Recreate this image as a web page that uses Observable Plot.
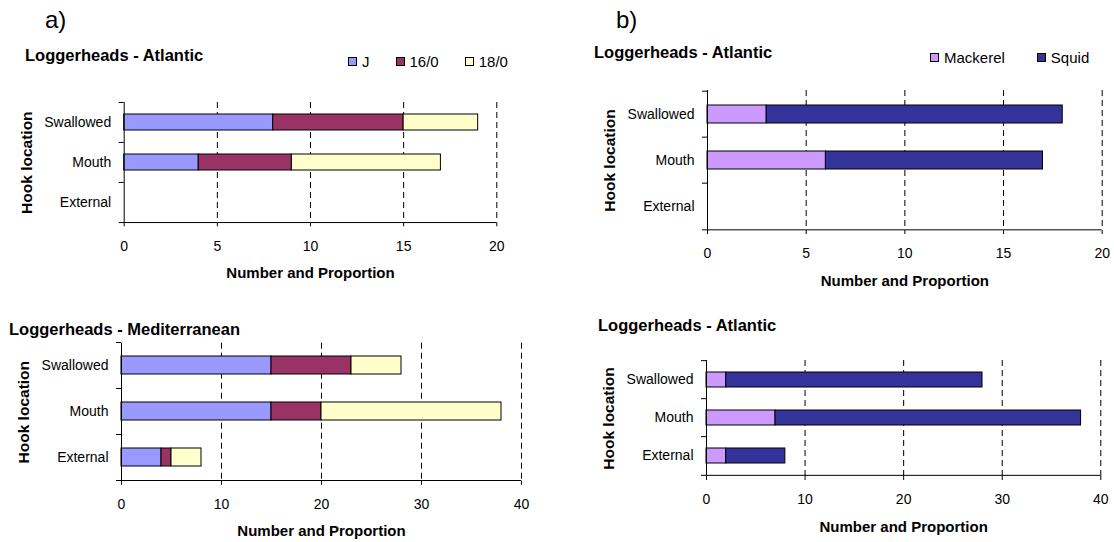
<!DOCTYPE html>
<html>
<head>
<meta charset="utf-8">
<script src="https://cdn.jsdelivr.net/npm/d3@7"></script>
<script src="https://cdn.jsdelivr.net/npm/@observablehq/plot@0.6"></script>
<style>
  body { margin: 0; background: #fff; font-family: Arial, "Liberation Sans", sans-serif; color: #000; }
  #page { position: relative; width: 1114px; height: 542px; overflow: hidden; background: #fff; }
  .panel { position: absolute; }
  .tag { position: absolute; font-size: 24px; line-height: 1; }
  .title { position: absolute; font-weight: bold; font-size: 16.5px; line-height: 1; white-space: nowrap; }
  .legend { position: absolute; display: flex; align-items: center; font-size: 15px; line-height: 1; white-space: nowrap; }
  .legend .item { display: flex; align-items: center; }
  .legend .sw { width: 9px; height: 9px; box-sizing: border-box; border: 1px solid #000; margin-right: 5px; }
</style>
</head>
<body>
<div id="page"></div>
<script>
// Hook location categories (y axis)
const locations = ["Swallowed", "Mouth", "External"];

// Hook types and their fills
const hookTypes = ["J", "16/0", "18/0"];
const hookColors = ["#9999ff", "#993366", "#ffffcc"];

// Bait types and their fills
const baitTypes = ["Mackerel", "Squid"];
const baitColors = ["#cc99ff", "#333399"];

// Loggerheads - Atlantic, by hook type (Swallowed, Mouth, External)
const atlHookJ = [8, 4, 0];
const atlHook16 = [7, 5, 0];
const atlHook18 = [4, 8, 0];

// Loggerheads - Mediterranean, by hook type
const medHookJ = [15, 15, 4];
const medHook16 = [8, 5, 1];
const medHook18 = [5, 18, 3];

// Loggerheads - Atlantic, by bait (upper panel)
const atlBaitMackerel = [3, 6, 0];
const atlBaitSquid = [15, 11, 0];

// Loggerheads - Atlantic, by bait (lower panel)
const atl2BaitMackerel = [2, 7, 2];
const atl2BaitSquid = [26, 31, 6];

// x axis tick values
const ticks20 = [0, 5, 10, 15, 20];
const ticks40 = [0, 10, 20, 30, 40];

const xTitle = "Number and Proportion";
const yTitle = "Hook location";

// long-format rows for stacking
function rows(types, series) {
  const out = [];
  types.forEach((t, k) => {
    locations.forEach((loc, i) => out.push({location: loc, type: t, value: series[k][i]}));
  });
  return out;
}

const page = document.getElementById("page");

function addDiv(cls, text, left, top) {
  const d = document.createElement("div");
  d.className = cls;
  d.textContent = text;
  d.style.left = left + "px";
  d.style.top = top + "px";
  page.appendChild(d);
  return d;
}

function addLegend(types, colors, left, top, gap) {
  const lg = document.createElement("div");
  lg.className = "legend";
  lg.style.left = left + "px";
  lg.style.top = top + "px";
  lg.style.gap = gap + "px";
  types.forEach((t, i) => {
    const it = document.createElement("div");
    it.className = "item";
    const sw = document.createElement("div");
    sw.className = "sw";
    sw.style.background = colors[i];
    const tx = document.createElement("span");
    tx.textContent = t;
    it.appendChild(sw);
    it.appendChild(tx);
    lg.appendChild(it);
  });
  page.appendChild(lg);
}

// One horizontal stacked-bar panel; `frame` is the plotting area in page pixels
function panel({data, types, colors, ticks, box, frame}) {
  const step = (frame.y1 - frame.y0) / locations.length;
  const chart = Plot.plot({
    width: box.w,
    height: box.h,
    marginLeft: frame.x0 - box.x,
    marginRight: box.x + box.w - frame.x1,
    marginTop: frame.y0 - box.y,
    marginBottom: box.y + box.h - frame.y1,
    style: {
      fontFamily: "Arial, 'Liberation Sans', sans-serif",
      fontSize: "14px",
      color: "#000",
      background: "transparent",
      overflow: "visible"
    },
    x: {domain: [0, ticks[ticks.length - 1]], label: null},
    y: {domain: locations, paddingInner: 0.6, paddingOuter: 0.3, label: null},
    color: {domain: types, range: colors},
    marks: [
      // dashed vertical gridlines
      Plot.ruleX(ticks.filter(t => t > 0), {stroke: "#000", strokeWidth: 1, strokeDasharray: "6,4"}),
      // stacked bars
      Plot.barX(data.filter(d => d.value > 0), Plot.stackX({
        x: "value", y: "location", fill: "type", order: types,
        stroke: "#000", strokeWidth: 1
      })),
      // axis lines
      Plot.ruleX([0], {stroke: "#000"}),
      Plot.ruleY([locations[locations.length - 1]], {dy: step / 2, insetLeft: -5, stroke: "#000"}),
      // category boundary ticks on the y axis
      Plot.ruleY(locations, {dy: -step / 2, x1: 0, x2: 0, insetLeft: -5, stroke: "#000"}),
      Plot.axisX({ticks, tickSize: 4, tickPadding: 14, label: null}),
      Plot.axisY({tickSize: 0, tickPadding: 13, label: null}),
      Plot.text([xTitle], {frameAnchor: "bottom", dy: 55, fontWeight: "bold", fontSize: 15}),
      Plot.text([yTitle], {frameAnchor: "left", textAnchor: "middle", dx: -97.5, rotate: -90, fontWeight: "bold", fontSize: 15.5})
    ]
  });
  const holder = document.createElement("div");
  holder.className = "panel";
  holder.style.left = box.x + "px";
  holder.style.top = box.y + "px";
  holder.appendChild(chart);
  page.appendChild(holder);
}

// a) hook type
addDiv("tag", "a)", 45, 8);
addDiv("title", "Loggerheads - Atlantic", 25, 47);
addLegend(hookTypes, hookColors, 348, 54, 26);
panel({
  data: rows(hookTypes, [atlHookJ, atlHook16, atlHook18]),
  types: hookTypes, colors: hookColors, ticks: ticks20,
  box: {x: 0, y: 0, w: 560, h: 300},
  frame: {x0: 123.7, x1: 496.3, y0: 102, y1: 222.3}
});
addDiv("title", "Loggerheads - Mediterranean", 9, 321);
panel({
  data: rows(hookTypes, [medHookJ, medHook16, medHook18]),
  types: hookTypes, colors: hookColors, ticks: ticks40,
  box: {x: 0, y: 300, w: 560, h: 242},
  frame: {x0: 121, x1: 521, y0: 342.7, y1: 480.7}
});

// b) bait type
addDiv("tag", "b)", 616, 8);
addDiv("title", "Loggerheads - Atlantic", 594, 44);
addLegend(baitTypes, baitColors, 930, 50, 32);
panel({
  data: rows(baitTypes, [atlBaitMackerel, atlBaitSquid]),
  types: baitTypes, colors: baitColors, ticks: ticks20,
  box: {x: 560, y: 0, w: 554, h: 300},
  frame: {x0: 707, x1: 1101.7, y0: 90, y1: 230}
});
addDiv("title", "Loggerheads - Atlantic", 598, 317);
panel({
  data: rows(baitTypes, [atl2BaitMackerel, atl2BaitSquid]),
  types: baitTypes, colors: baitColors, ticks: ticks40,
  box: {x: 560, y: 300, w: 554, h: 242},
  frame: {x0: 706, x1: 1100.3, y0: 360, y1: 476}
});
</script>
</body>
</html>
